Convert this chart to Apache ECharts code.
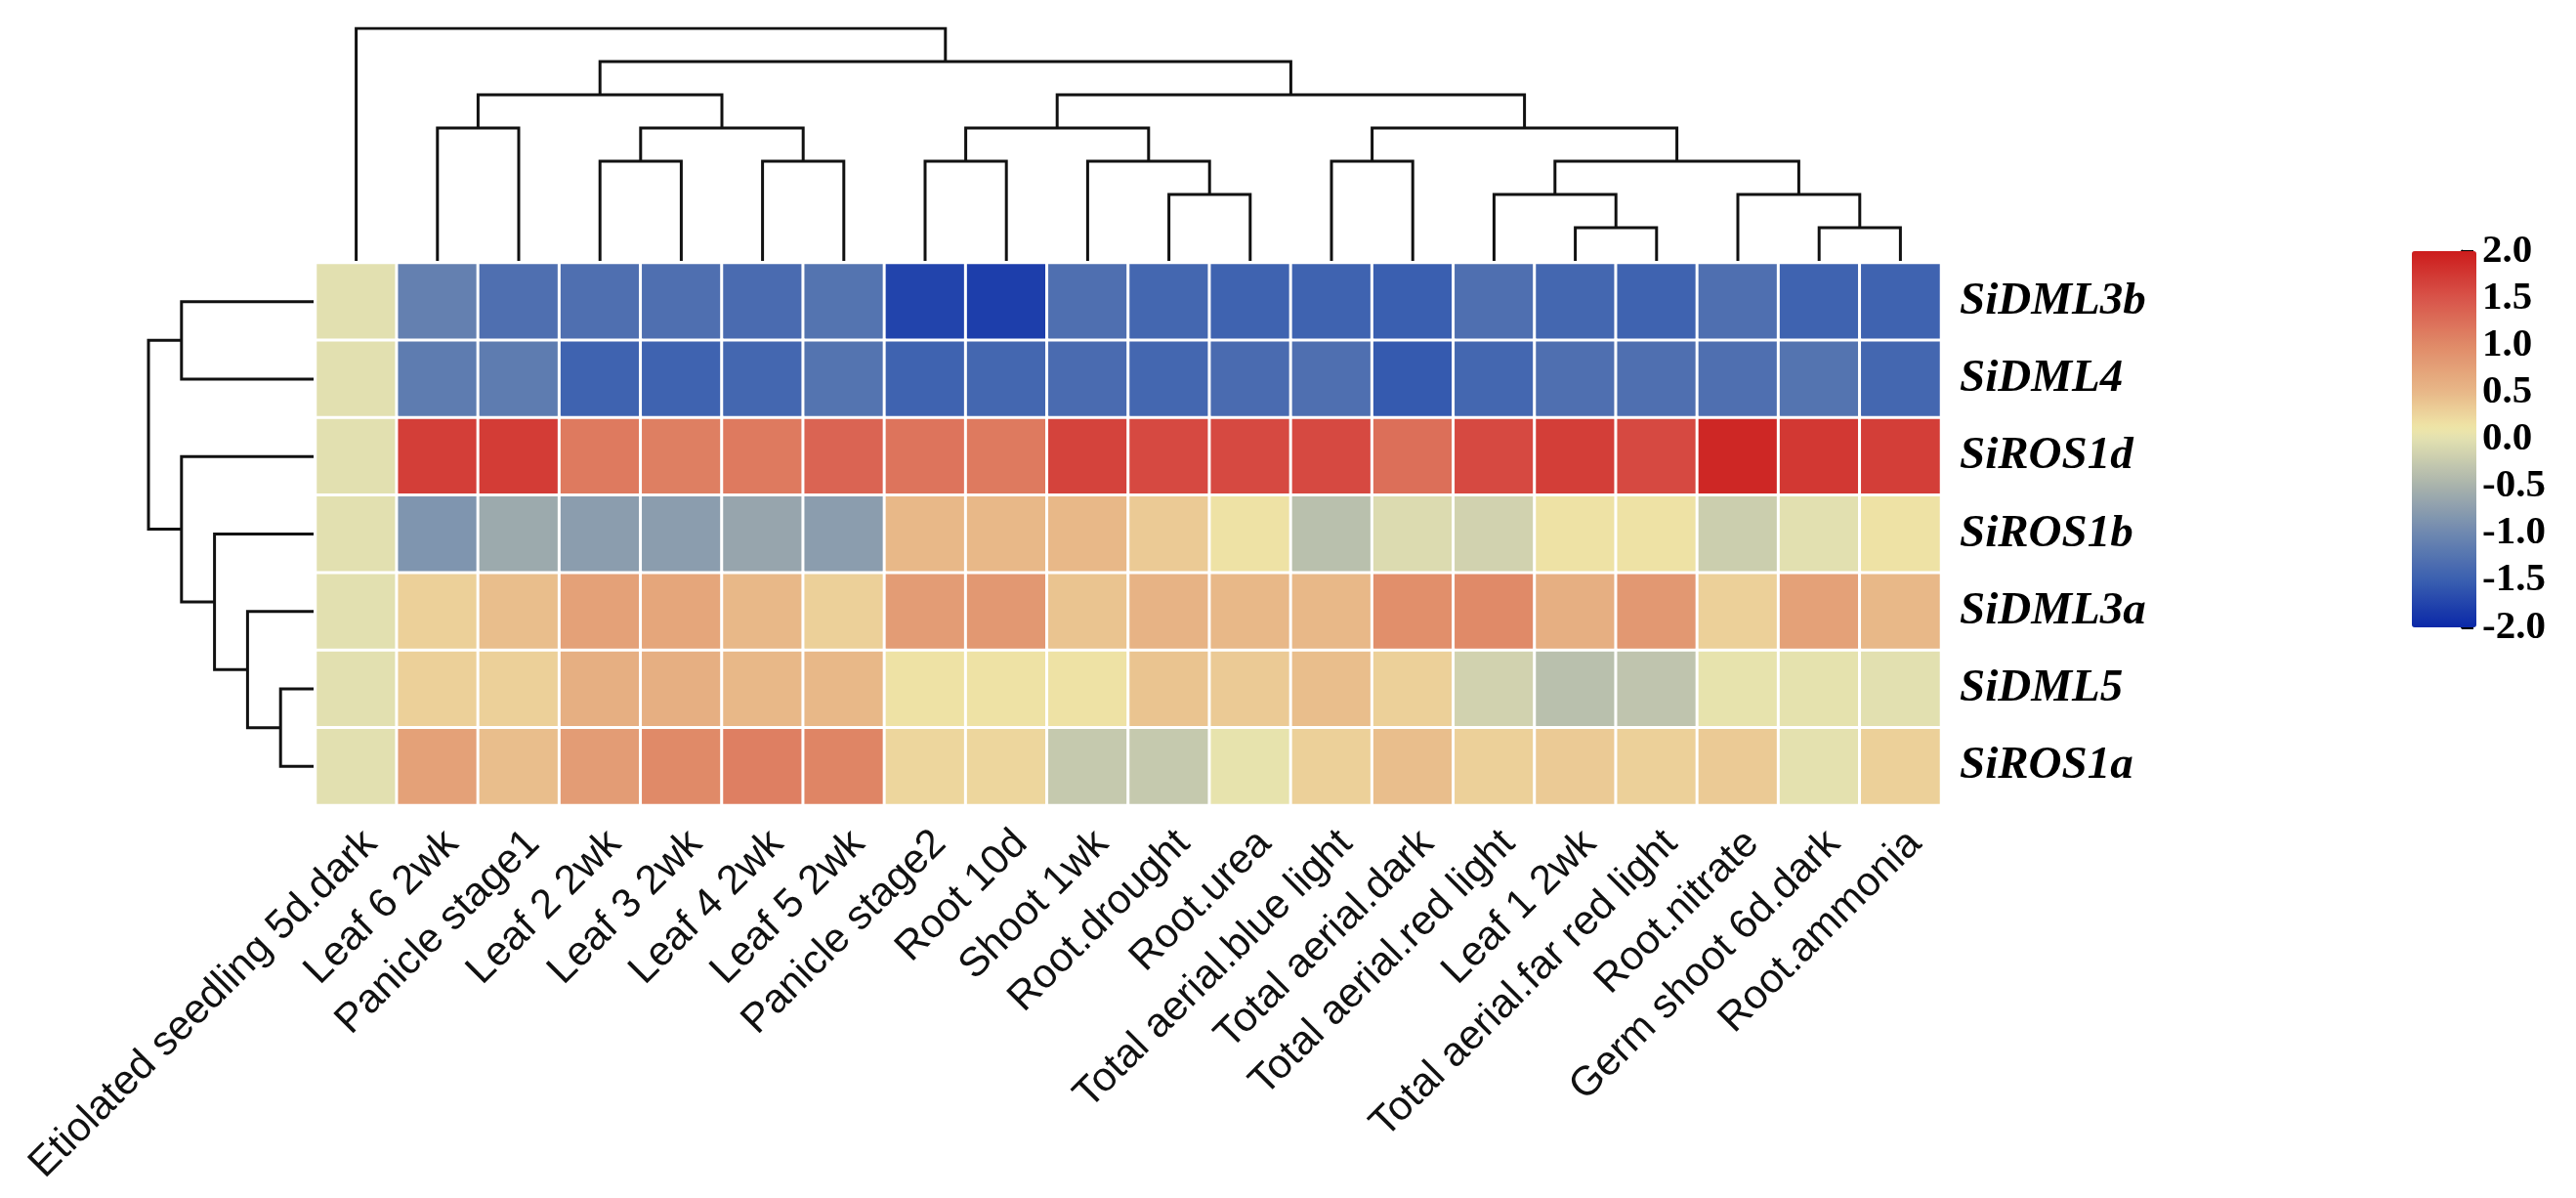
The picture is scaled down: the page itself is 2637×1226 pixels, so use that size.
<!DOCTYPE html>
<html>
<head>
<meta charset="utf-8">
<script src="https://cdn.jsdelivr.net/npm/echarts@6/dist/echarts.min.js"></script>
<style>
html,body{margin:0;padding:0;background:#fff;}
#chart{width:2637px;height:1226px;}
</style>
</head>
<body>
<div id="chart"></div>
<script>
// ---- data ----
const samples = ['Etiolated seedling 5d.dark','Leaf 6 2wk','Panicle stage1','Leaf 2 2wk','Leaf 3 2wk','Leaf 4 2wk','Leaf 5 2wk','Panicle stage2','Root 10d','Shoot 1wk','Root.drought','Root.urea','Total aerial.blue light','Total aerial.dark','Total aerial.red light','Leaf 1 2wk','Total aerial.far red light','Root.nitrate','Germ shoot 6d.dark','Root.ammonia'];
const genes = ['SiDML3b','SiDML4','SiROS1d','SiROS1b','SiDML3a','SiDML5','SiROS1a'];

const vSiDML3b = [0,-1.1,-1.3,-1.3,-1.3,-1.35,-1.25,-1.75,-1.8,-1.3,-1.4,-1.45,-1.45,-1.5,-1.3,-1.4,-1.45,-1.3,-1.45,-1.45];
const vSiDML4  = [0,-1.15,-1.15,-1.45,-1.45,-1.4,-1.25,-1.45,-1.4,-1.35,-1.4,-1.35,-1.3,-1.55,-1.4,-1.3,-1.3,-1.3,-1.25,-1.4];
const vSiROS1d = [0,1.7,1.72,1.15,1.1,1.15,1.35,1.2,1.15,1.65,1.6,1.6,1.6,1.25,1.6,1.7,1.6,1.9,1.75,1.7];
const vSiROS1b = [0,-0.85,-0.6,-0.75,-0.75,-0.65,-0.75,0.5,0.5,0.5,0.35,0.15,-0.35,-0.05,-0.15,0.15,0.15,-0.2,0.0,0.15];
const vSiDML3a = [0,0.3,0.45,0.75,0.7,0.5,0.3,0.8,0.85,0.4,0.55,0.5,0.5,0.95,1.0,0.6,0.85,0.3,0.75,0.5];
const vSiDML5  = [0,0.3,0.3,0.6,0.6,0.5,0.5,0.15,0.15,0.15,0.4,0.35,0.45,0.3,-0.15,-0.35,-0.3,0.05,0.03,0.0];
const vSiROS1a = [0,0.75,0.45,0.8,1.0,1.1,1.05,0.25,0.25,-0.25,-0.25,0.05,0.3,0.45,0.3,0.35,0.3,0.35,0.02,0.3];
const rowValues = [vSiDML3b, vSiDML4, vSiROS1d, vSiROS1b, vSiDML3a, vSiDML5, vSiROS1a];

// dendrograms: [mergeLevel, left, right]; leaves are indices
const colTree = [7, 0, [6,
  [5, [4, 1, 2], [4, [3, 3, 4], [3, 5, 6]]],
  [5, [4, [3, 7, 8], [3, 9, [2, 10, 11]]],
      [4, [3, 12, 13], [3, [2, 14, [1, 15, 16]], [2, 17, [1, 18, 19]]]]]
]];
const rowTree = [5, [4, 0, 1], [4, 2, [3, 3, [2, 4, [1, 5, 6]]]]];

const colorbarTicks = [-2, -1.5, -1, -0.5, 0, 0.5, 1, 1.5, 2];

// ---- colour scale ----
const stops = [
  [-2.0, '#0a28a8'], [-1.5, '#3a5fb0'], [-1.0, '#6e88b0'], [-0.5, '#a8b2ac'],
  [0.0, '#e2e0b0'], [0.12, '#efe6a8'], [0.5, '#e8b888'], [1.0, '#e08a68'],
  [1.5, '#d8544a'], [2.0, '#cc1c1c']
];
function hex2rgb(h){return [parseInt(h.substr(1,2),16),parseInt(h.substr(3,2),16),parseInt(h.substr(5,2),16)];}
function colorAt(v){
  for(let i=0;i<stops.length-1;i++){
    const a=stops[i], b=stops[i+1];
    if(v>=a[0]-1e-9 && v<=b[0]+1e-9){
      const t=(v-a[0])/(b[0]-a[0]); const ca=hex2rgb(a[1]), cb=hex2rgb(b[1]);
      return 'rgb('+ca.map((c,k)=>Math.round(c+(cb[k]-c)*t)).join(',')+')';
    }
  }
  return stops[stops.length-1][1];
}
const palette=[]; for(let i=0;i<=80;i++){palette.push(colorAt(-2+i*0.05));}

// ---- build series data ----
const heatData=[];
rowValues.forEach((row,r)=>row.forEach((v,c)=>heatData.push([c,r,v])));

function buildSegs(tree, segs){
  if(typeof tree==='number') return {pos:tree,h:0};
  const l=buildSegs(tree[1],segs), r=buildSegs(tree[2],segs), h=tree[0];
  segs.push([[l.pos,l.h],[l.pos,h],[r.pos,h],[r.pos,r.h]]);
  return {pos:(l.pos+r.pos)/2,h:h};
}
const colSegs=[]; buildSegs(colTree,colSegs);
const rowSegs=[]; buildSegs(rowTree,rowSegs);
const colLines=colSegs.map(s=>({coords:s.map(p=>[p[0],p[1]])}));
const rowLines=rowSegs.map(s=>({coords:s.map(p=>[p[1],p[0]])}));

const chart=echarts.init(document.getElementById('chart'),null,{renderer:'canvas'});
const serifB={fontFamily:'"Liberation Serif","Times New Roman",serif',fontWeight:'bold',color:'#000'};
chart.setOption({
  animation:false,
  backgroundColor:'#fff',
  grid:[
    {left:323,top:269,width:1664,height:555},
    {left:323,top:29,width:1664,height:238},
    {left:152,top:269,width:169,height:555},
    {left:2520,top:257,width:15,height:385}
  ],
  xAxis:[
    {type:'category',gridIndex:0,data:samples,axisLine:{show:false},axisTick:{show:false},
     axisLabel:{interval:0,rotate:45,margin:18,verticalAlign:'top',fontSize:42,color:'#111',fontFamily:'"Liberation Sans",Arial,sans-serif'}},
    {type:'value',gridIndex:1,min:-0.5,max:19.5,show:false},
    {type:'value',gridIndex:2,min:0,max:5,inverse:true,show:false},
    {type:'value',gridIndex:3,show:false}
  ],
  yAxis:[
    {type:'category',gridIndex:0,data:genes,inverse:true,position:'right',axisLine:{show:false},axisTick:{show:false},
     axisLabel:Object.assign({margin:19,fontSize:47,fontStyle:'italic'},serifB)},
    {type:'value',gridIndex:1,min:0,max:7,show:false},
    {type:'value',gridIndex:2,min:-0.5,max:6.5,inverse:true,show:false},
    {type:'value',gridIndex:3,min:colorbarTicks[0],max:colorbarTicks[colorbarTicks.length-1],interval:0.5,position:'right',
     axisLine:{show:true,lineStyle:{color:'#000',width:3}},
     axisTick:{show:true,length:12,lineStyle:{color:'#000',width:3}},
     splitLine:{show:false},
     axisLabel:Object.assign({margin:6,fontSize:41,formatter:v=>v.toFixed(1)},serifB)}
  ],
  visualMap:{type:'continuous',min:-2,max:2,seriesIndex:0,calculable:false,orient:'vertical',
    left:2469,top:257,itemWidth:66,itemHeight:385,padding:0,text:null,show:true,
    inRange:{color:palette}},
  series:[
    {type:'heatmap',xAxisIndex:0,yAxisIndex:0,data:heatData,
     itemStyle:{borderColor:'#fff',borderWidth:3},emphasis:{disabled:true},silent:true},
    {type:'lines',coordinateSystem:'cartesian2d',xAxisIndex:1,yAxisIndex:1,polyline:true,silent:true,
     lineStyle:{color:'#111',width:3,opacity:1},data:colLines},
    {type:'lines',coordinateSystem:'cartesian2d',xAxisIndex:2,yAxisIndex:2,polyline:true,silent:true,
     lineStyle:{color:'#111',width:3,opacity:1},data:rowLines}
  ]
});
</script>
</body>
</html>
